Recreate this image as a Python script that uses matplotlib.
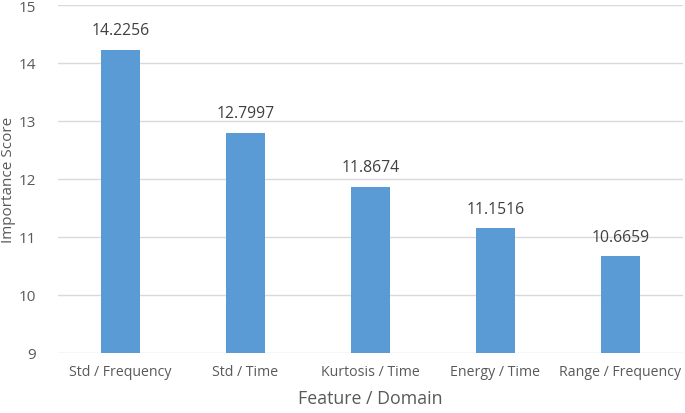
import matplotlib
matplotlib.use("Agg")
import matplotlib.pyplot as plt

features = ["Std / Frequency", "Std / Time", "Kurtosis / Time", "Energy / Time", "Range / Frequency"]
scores = [14.2256, 12.7997, 11.8674, 11.1516, 10.6659]
score_labels = ["14.2256", "12.7997", "11.8674", "11.1516", "10.6659"]

plt.rcParams["font.family"] = ["Open Sans", "DejaVu Sans"]
text_col = "#595959"

fig = plt.figure(figsize=(6.85, 4.14), dpi=100)
ax = fig.add_axes([0.0847, 0.145, 0.912, 0.8405])

x = list(range(len(features)))
ax.bar(x, [s - 9 for s in scores], bottom=9, width=0.31, color="#5B9BD5", zorder=3)
for xi, s, lab in zip(x, scores, score_labels):
    ax.text(xi, s + 0.2, lab, ha="center", va="bottom", fontsize=11.3, color="#404040")

ax.set_xlim(-0.5, 4.5)
ax.set_ylim(9, 15)
ax.set_yticks(range(9, 16))
ax.set_xticks(x)
ax.set_xticklabels(features)
ax.grid(axis="y", color="#D9D9D9", linewidth=1, zorder=0)
for sp in ax.spines.values():
    sp.set_visible(False)
ax.tick_params(axis="x", length=0, labelsize=10.2, colors=text_col, pad=8)
ax.tick_params(axis="y", length=0, labelsize=11, colors=text_col, pad=16)
ax.set_xlabel("Feature / Domain", fontsize=12.8, color=text_col, labelpad=7)
ax.set_ylabel("Importance Score", fontsize=11, color=text_col, labelpad=2)

fig.savefig("out.png", dpi=100)
